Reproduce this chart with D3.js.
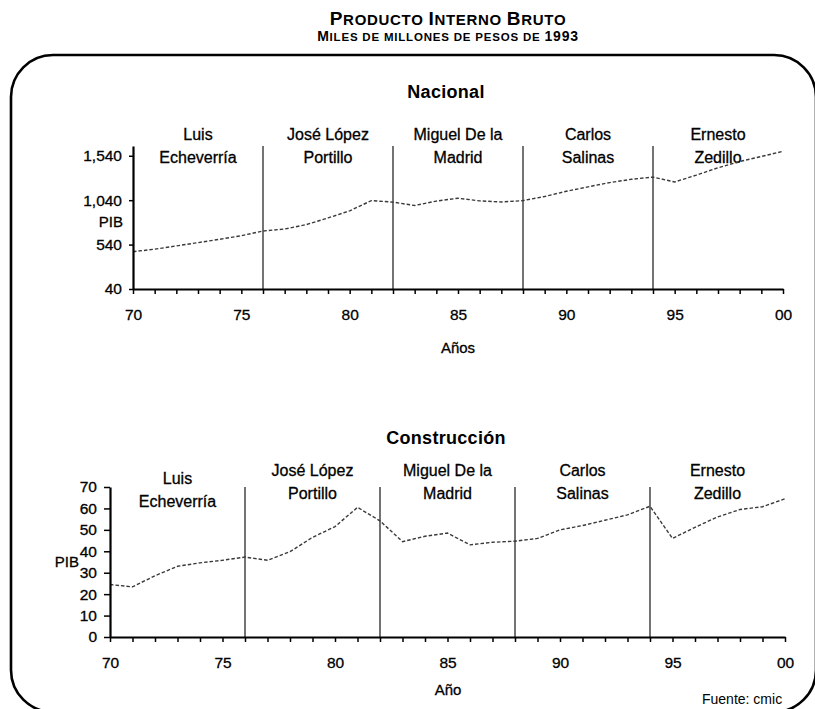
<!DOCTYPE html>
<html>
<head>
<meta charset="utf-8">
<script src="https://cdn.jsdelivr.net/npm/d3@7"></script>
<style>
  html, body { margin: 0; padding: 0; background: #fff; }
  svg { display: block; font-family: "Liberation Sans", Arial, sans-serif; }
  .ink { stroke: #000; stroke-width: 0.3; paint-order: stroke; }
</style>
</head>
<body>
<svg id="chart" width="815" height="709"></svg>
<script>
// Años 1970–2000
const years = d3.range(1970, 2001);

// PIB nacional, miles de millones de pesos de 1993
const nacional = [460, 488, 525, 562, 600, 640, 693, 715, 765, 840, 920, 1035,
  1018, 980, 1030, 1062, 1032, 1020, 1035, 1082, 1140, 1190, 1238, 1275, 1300,
  1245, 1322, 1405, 1475, 1532, 1590];

// PIB de la construcción, miles de millones de pesos de 1993
const construccion = [24.5, 23.4, 28.6, 33, 34.6, 35.8, 37.3, 35.8, 39.8, 46.5,
  51.5, 60.5, 54.2, 44.5, 47, 48.5, 43, 44.2, 44.7, 46, 50, 52, 54.5, 57, 61,
  46, 51.2, 56, 59.5, 60.8, 64.5];

// Sexenios presidenciales: año de inicio de cada periodo y nombre en dos renglones
const periodStarts = [1970, 1976, 1982, 1988, 1994, 2000];
const presidents = [
  ["Luis", "Echeverría"],
  ["José López", "Portillo"],
  ["Miguel De la", "Madrid"],
  ["Carlos", "Salinas"],
  ["Ernesto", "Zedillo"]
];

const yTicksNacional = [40, 540, 1040, 1540];
const yTicksConstruccion = [0, 10, 20, 30, 40, 50, 60, 70];
const xLabelYears = [1970, 1975, 1980, 1985, 1990, 1995, 2000];

const svg = d3.select("#chart");
const FONT = "'Liberation Sans', Arial, sans-serif";

// Marco redondeado
svg.append("rect")
  .attr("x", 11).attr("y", 55).attr("width", 805).attr("height", 657)
  .attr("rx", 42).attr("ry", 42)
  .attr("fill", "none").attr("stroke", "#000").attr("stroke-width", 2.6);

// Versalitas: las mayúsculas y cifras a tamaño completo, las minúsculas reducidas
function smallCaps(sel, text, big, small) {
  let buf = "", bufBig = null;
  const flush = () => {
    if (buf) sel.append("tspan").attr("font-size", bufBig ? big : small).text(buf);
    buf = "";
  };
  for (const ch of text) {
    const isBig = ch !== " " && ch === ch.toUpperCase();
    const b = ch === " " ? bufBig : isBig;
    if (bufBig !== null && b !== bufBig) flush();
    bufBig = b;
    buf += ch.toUpperCase();
  }
  flush();
}
const t1 = svg.append("text").attr("x", 448).attr("y", 25)
  .attr("text-anchor", "middle").attr("font-weight", "bold").attr("letter-spacing", 0.7);
smallCaps(t1, "Producto Interno Bruto", 19, 15);
const t2 = svg.append("text").attr("x", 448).attr("y", 41)
  .attr("text-anchor", "middle").attr("font-weight", "bold").attr("letter-spacing", 0.8);
smallCaps(t2, "Miles de millones de pesos de 1993", 14, 11.5);

function panel(cfg) {
  const x = d3.scaleLinear().domain([1970, 2000]).range([cfg.x0, cfg.x1]);
  const y = d3.scaleLinear().domain(cfg.yDomain).range([cfg.yBase, cfg.yTop]);
  const g = svg.append("g");

  // Título del panel
  g.append("text").attr("x", cfg.titleX).attr("y", cfg.titleY)
    .attr("text-anchor", "middle").attr("font-weight", "bold")
    .attr("font-size", 18).attr("letter-spacing", 0.3).text(cfg.title);

  // Divisiones entre sexenios
  g.selectAll("line.sep").data(periodStarts.slice(1, -1)).join("line")
    .attr("class", "sep")
    .attr("x1", d => x(d)).attr("x2", d => x(d))
    .attr("y1", y(cfg.yDomain[1])).attr("y2", cfg.yBase)
    .attr("stroke", "#000").attr("stroke-width", 1.1);

  // Nombres de presidentes
  presidents.forEach((p, i) => {
    const cx = (x(periodStarts[i]) + x(periodStarts[i + 1])) / 2;
    const off = (i === 0 ? cfg.firstShift : 0);
    p.forEach((line, j) => {
      g.append("text").attr("class", "ink").attr("x", cx).attr("y", cfg.labelY[j] + off)
        .attr("text-anchor", "middle").attr("font-size", 16).text(line);
    });
  });

  // Serie
  const line = d3.line().x((d, i) => x(years[i])).y(d => y(d));
  g.append("path").datum(cfg.values)
    .attr("d", line).attr("fill", "none")
    .attr("stroke", "#3a3a3a").attr("stroke-width", 1.4)
    .attr("stroke-dasharray", "3.5 2");

  // Eje X
  const xa = g.append("g").attr("transform", `translate(0,${cfg.yBase})`)
    .call(d3.axisBottom(x).tickValues(years).tickSize(5).tickSizeOuter(0)
      .tickFormat(d => xLabelYears.includes(d) ? d3.format("02d")(d % 100) : ""));
  xa.select(".domain").attr("stroke-width", 2.2);
  xa.selectAll(".tick line").attr("stroke-width", 1.5);
  xa.selectAll(".tick text").attr("class", "ink").attr("font-size", 15.5)
    .attr("font-family", FONT).attr("fill", "#000").attr("y", cfg.xLabelDy);

  // Eje Y
  const ya = g.append("g").attr("transform", `translate(${cfg.x0},0)`)
    .call(d3.axisLeft(y).tickValues(cfg.yTicks).tickSize(cfg.yTickSize).tickSizeOuter(0)
      .tickFormat(d3.format(",")));
  ya.select(".domain").attr("stroke-width", 2.2);
  ya.selectAll(".tick line").attr("stroke-width", 1.5);
  ya.selectAll(".tick text").attr("class", "ink").attr("font-size", 15.5)
    .attr("font-family", FONT).attr("fill", "#000").attr("x", cfg.yLabelDx);

  // Etiquetas de ejes
  g.append("text").attr("class", "ink").attr("x", cfg.pibX).attr("y", cfg.pibY)
    .attr("text-anchor", "end").attr("font-size", 15).text("PIB");
  g.append("text").attr("class", "ink").attr("x", cfg.xTitleX).attr("y", cfg.xTitleY)
    .attr("text-anchor", "middle").attr("font-size", 15).text(cfg.xTitle);
}

panel({
  title: "Nacional", titleX: 446, titleY: 98,
  x0: 133, x1: 783, yTop: 146, yBase: 289, yDomain: [40, 1650],
  yTicks: yTicksNacional, yTickSize: 4, yLabelDx: -11, values: nacional,
  labelY: [140, 163], firstShift: 0, xLabelDy: 20,
  pibX: 123, pibY: 227, xTitle: "Años", xTitleX: 458, xTitleY: 353
});

panel({
  title: "Construcción", titleX: 446, titleY: 444,
  x0: 110, x1: 785, yTop: 487, yBase: 637, yDomain: [0, 70],
  yTicks: yTicksConstruccion, yTickSize: 6, yLabelDx: -13, values: construccion,
  labelY: [476, 499], firstShift: 8, xLabelDy: 20,
  pibX: 79, pibY: 567, xTitle: "Año", xTitleX: 448, xTitleY: 695
});

// Fuente
svg.append("text").attr("x", 702).attr("y", 704)
  .attr("font-size", 14).text("Fuente: cmic");
</script>
</body>
</html>
